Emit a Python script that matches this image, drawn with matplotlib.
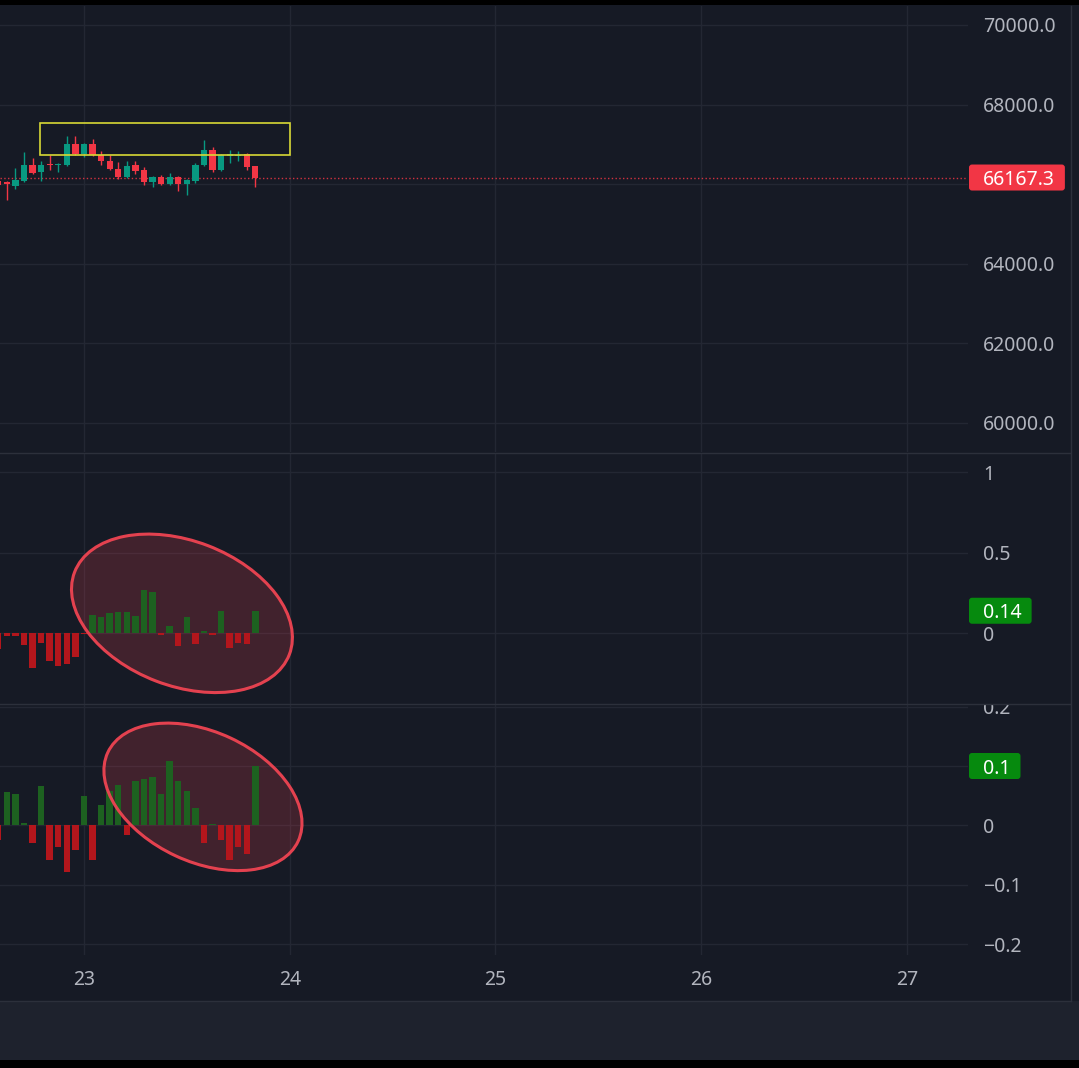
import matplotlib
matplotlib.use('Agg')
import matplotlib.pyplot as plt
import matplotlib.transforms as mtransforms
from matplotlib.patches import Rectangle, Ellipse, FancyBboxPatch
from matplotlib.lines import Line2D
import numpy as np

plt.rcParams['font.family'] = ['Noto Sans', 'DejaVu Sans']

# ---------------- data ----------------
# hours relative to day 23, 00:00 (hourly candles)
hours = list(range(-10, 21))
opens = [66070, 66060, 65945, 66088, 66490, 66297, 66510, 66490, 66473, 67011,
         66762, 67011, 66745, 66573, 66384, 66173, 66473, 66365, 66055, 66180,
         66012, 66180, 65995, 66088, 66473, 66868, 66365, 66720, 66715, 66760,
         66448]
highs = [66100, 66080, 66407, 66810, 66659, 66573, 66742, 66535, 67202, 67202,
         67030, 67145, 66825, 66725, 66560, 66590, 66590, 66425, 66200, 66220,
         66282, 66200, 66140, 66535, 67120, 66930, 66760, 66868, 66825, 66790,
         66448]
lows = [65950, 65610, 65887, 66060, 66256, 66088, 66365, 66307, 66460, 66745,
        66677, 66720, 66490, 66360, 66140, 66155, 66256, 65987, 65920, 65990,
        65990, 65820, 65735, 66030, 66460, 66307, 66323, 66535, 66573, 66365,
        65920]
closes = [65990, 66010, 66113, 66490, 66282, 66490, 66475, 66510, 67011, 66762,
          67011, 66745, 66573, 66384, 66173, 66448, 66323, 66055, 66180, 66012,
          66180, 66012, 66113, 66473, 66868, 66365, 66725, 66760, 66745, 66425,
          66167.3]
osc1 = [-0.095, -0.017, -0.017, -0.073, -0.212, -0.062, -0.170, -0.203, -0.190, -0.145,
        -0.003, 0.114, 0.100, 0.124, 0.134, 0.134, 0.107, 0.269, 0.258, -0.010,
        0.047, -0.079, 0.099, -0.068, 0.016, -0.011, 0.140, -0.093, -0.062, -0.068,
        0.140]
osc2 = [-0.025, 0.057, 0.052, 0.004, -0.030, 0.066, -0.058, -0.036, -0.078, -0.041,
        0.050, -0.058, 0.034, 0.058, 0.068, -0.017, 0.074, 0.078, 0.082, 0.053,
        0.109, 0.074, 0.058, 0.029, -0.030, 0.002, -0.025, -0.058, -0.036, -0.049,
        0.100]

day_ticks = [0, 24, 48, 72, 96]
day_labels = ['23', '24', '25', '26', '27']
price_ticks = [60000, 62000, 64000, 66000, 68000, 70000]
price_labels = ['60000.0', '62000.0', '64000.0', '', '68000.0', '70000.0']
osc1_ticks = [0, 0.5, 1]
osc1_labels = ['0', '0.5', '1']
osc2_ticks = [-0.2, -0.1, 0, 0.1, 0.2]
osc2_labels = ['\u22120.2', '\u22120.1', '0', '0.1', '0.2']
last_price = 66167.3
last_osc1 = 0.14
last_osc2 = 0.1

# drawing annotations (data coords)
zone_x = (-5.1, 24.0)
zone_y = (66744, 67548)
ellipse1 = dict(xc=11.43, yc=0.124, w=230, h=145, angle=-21)
ellipse2 = dict(xc=13.88, yc=0.048, w=210, h=130, angle=-25)

# ---------------- style ----------------
W, H = 1079, 1068
BG = '#161a25'
GRID = '#232733'
SEP = '#2c303b'
TXT = '#b2b5be'
UP = '#089981'
DN = '#f23645'
HUP = '#1d6120'
HDN = '#b3161c'
ELL = '#ef4452'
ZONE = '#d8d835'
LBL_GREEN = '#068a0e'
FS = 14

fig = plt.figure(figsize=(W / 100, H / 100), dpi=100)
fig.patch.set_facecolor(BG)


def rect_px(x0, y0, x1, y1):
    return [x0 / W, 1 - y1 / H, (x1 - x0) / W, (y1 - y0) / H]


PLOT_R = 968
ax1 = fig.add_axes(rect_px(0, 6, PLOT_R, 452))
ax2 = fig.add_axes(rect_px(0, 453, PLOT_R, 703.5))
ax3 = fig.add_axes(rect_px(0, 705, PLOT_R, 955))

xlim = (-9.8, 103.14)
for ax in (ax1, ax2, ax3):
    ax.set_facecolor(BG)
    for s in ax.spines.values():
        s.set_visible(False)
    ax.set_xlim(*xlim)
    ax.set_xticks(day_ticks)
    ax.grid(True, color=GRID, lw=1)
    ax.set_axisbelow(True)
    ax.yaxis.tick_right()
    ax.tick_params(axis='both', length=0)
    ax.tick_params(axis='y', pad=10.8, labelsize=FS, labelcolor=TXT)
    ax.tick_params(axis='x', labelbottom=False)

ax3.tick_params(axis='x', labelbottom=True, pad=10.5, labelsize=FS, labelcolor=TXT)
ax3.set_xticklabels(day_labels)

# ---- pane 1: candles ----
ax1.set_ylim(59271, 70477)
ax1.set_yticks(price_ticks)
ax1.set_yticklabels(price_labels)
o = np.array(opens); c = np.array(closes); hi = np.array(highs); lo = np.array(lows)
cols = [UP if cc >= oo else DN for oo, cc in zip(o, c)]
ax1.vlines(hours, lo, hi, colors=cols, lw=1.0, zorder=3)
ax1.bar(hours, np.maximum(np.abs(c - o), 28), bottom=np.minimum(o, c), width=0.72,
        color=cols, edgecolor='none', zorder=4)
ax1.axhline(last_price, color=DN, lw=1.0, ls=(0, (1, 1.7)), alpha=0.85, zorder=2)
ax1.add_patch(Rectangle((zone_x[0], zone_y[0]), zone_x[1] - zone_x[0], zone_y[1] - zone_y[0],
                        fill=False, ec=ZONE, lw=1.2, zorder=5))

# ---- pane 2 ----
ax2.set_ylim(-0.435, 1.118)
ax2.set_yticks(osc1_ticks)
ax2.set_yticklabels(osc1_labels)
ax2.bar(hours, osc1, width=0.75, color=[HUP if v >= 0 else HDN for v in osc1],
        edgecolor='none', zorder=2)

# ---- pane 3 ----
ax3.set_ylim(-0.2185, 0.2028)
ax3.set_yticks(osc2_ticks)
ax3.set_yticklabels(osc2_labels)
ax3.bar(hours, osc2, width=0.75, color=[HUP if v >= 0 else HDN for v in osc2],
        edgecolor='none', zorder=2)

# clip pane-3 tick labels to its own vertical band
clip_bb = mtransforms.Bbox.from_extents(0, H - 955, W, H - 705)
for t in ax3.yaxis.get_major_ticks():
    t.label2.set_clip_box(clip_bb)
    t.label2.set_clip_on(True)


def add_ellipse(ax, e):
    tr = fig.dpi_scale_trans + mtransforms.ScaledTranslation(e['xc'], e['yc'], ax.transData)
    ax.add_patch(Ellipse((0, 0), e['w'] / 100, e['h'] / 100, angle=e['angle'], transform=tr,
                         fc=ELL, alpha=0.2, ec='none', zorder=1))
    ax.add_patch(Ellipse((0, 0), e['w'] / 100, e['h'] / 100, angle=e['angle'], transform=tr,
                         fc='none', ec=ELL, lw=2.2, alpha=0.95, zorder=5))


add_ellipse(ax2, ellipse1)
add_ellipse(ax3, ellipse2)

renderer = fig.canvas.get_renderer()


def value_label(ax, val, text, color):
    blend = mtransforms.blended_transform_factory(ax.transAxes, ax.transData)
    t = ax.text(983 / PLOT_R, val, text, transform=blend, ha='left', va='center_baseline',
                fontsize=FS, color='white', zorder=11, clip_on=False)
    bb = t.get_window_extent(renderer)
    w_px = bb.x1 + 10 - 969
    tr = fig.dpi_scale_trans + mtransforms.ScaledTranslation(969 / PLOT_R, val, blend)
    box = FancyBboxPatch((0, -0.13), w_px / 100, 0.26,
                         boxstyle='round,pad=0,rounding_size=0.03',
                         transform=tr, fc=color, ec='none', zorder=10, clip_on=False)
    ax.add_patch(box)


value_label(ax1, last_price, '66167.3', DN)
value_label(ax2, last_osc1, '0.14', LBL_GREEN)
value_label(ax3, last_osc2, '0.1', LBL_GREEN)

# ---- frame / separators ----
def fline(x0, y0, x1, y1, color=SEP, lw=1.0):
    fig.add_artist(Line2D([x0 / W, x1 / W], [1 - y0 / H, 1 - y1 / H],
                          transform=fig.transFigure, color=color, lw=lw, zorder=20))


fline(0, 452.5, 1070, 452.5)
fline(0, 704.2, 1070, 704.2)
fline(0, 1000.5, 1070.5, 1000.5)
fline(1070.5, 6, 1070.5, 1000.5)

fig.add_artist(Rectangle((0, 0), 1, 8 / H, transform=fig.transFigure, fc='#000000',
                         ec='none', zorder=0))
fig.add_artist(Rectangle((0, 8 / H), 1, 59.5 / H, transform=fig.transFigure, fc='#1e222d',
                         ec='none', zorder=0))
fig.add_artist(Rectangle((0, 1 - 5 / H), 1, 5 / H, transform=fig.transFigure, fc='#000000',
                         ec='none', zorder=0))

fig.savefig('out.png', dpi=100, facecolor=fig.get_facecolor())
